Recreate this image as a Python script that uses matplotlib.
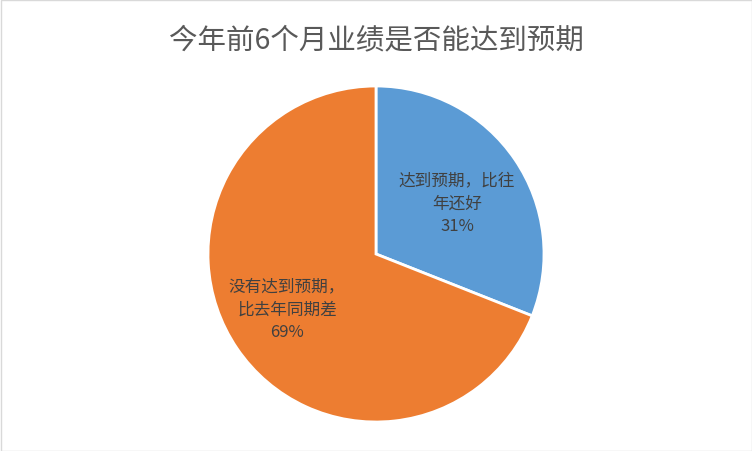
import matplotlib.pyplot as plt
from matplotlib.patches import Rectangle

plt.rcParams['font.family'] = ['Noto Sans CJK SC', 'DejaVu Sans']

# data
title = '今年前6个月业绩是否能达到预期'
labels = ['达到预期，比往\n年还好', '没有达到预期，\n比去年同期差']
values = [31, 69]
colors = ['#5B9BD5', '#ED7D31']

fig = plt.figure(figsize=(7.52, 4.52), dpi=100)
fig.patches.append(Rectangle((0.5 / 752, 0.5 / 452), 1 - 1 / 752, 1 - 1 / 452,
                             transform=fig.transFigure, fill=False,
                             edgecolor='#D9D9D9', linewidth=1))

# pie centre (376, 255) px, radius 168 px
cx, cy, r = 376, 255, 168
ax = fig.add_axes([(cx - r) / 752, (452 - cy - r) / 452, 2 * r / 752, 2 * r / 452])
ax.pie(values, colors=colors, startangle=90, counterclock=False, radius=1,
       wedgeprops=dict(edgecolor='white', linewidth=2))
ax.set_xlim(-1, 1)
ax.set_ylim(-1, 1)
ax.set_aspect('equal')
ax.axis('off')

# label positions in pixels of the picture
label_px = [(457, 204), (287, 310)]
for lab, v, (px, py) in zip(labels, values, label_px):
    ax.text((px - cx) / r, -(py - cy) / r, f'{lab}\n{v}%', ha='center', va='center',
            fontsize=12, color='#404040', linespacing=1.45)

fig.text(0.5, 1 - 40 / 452, title, ha='center', va='center', fontsize=20.5,
         color='#595959')

fig.savefig('out.png', dpi=100)
